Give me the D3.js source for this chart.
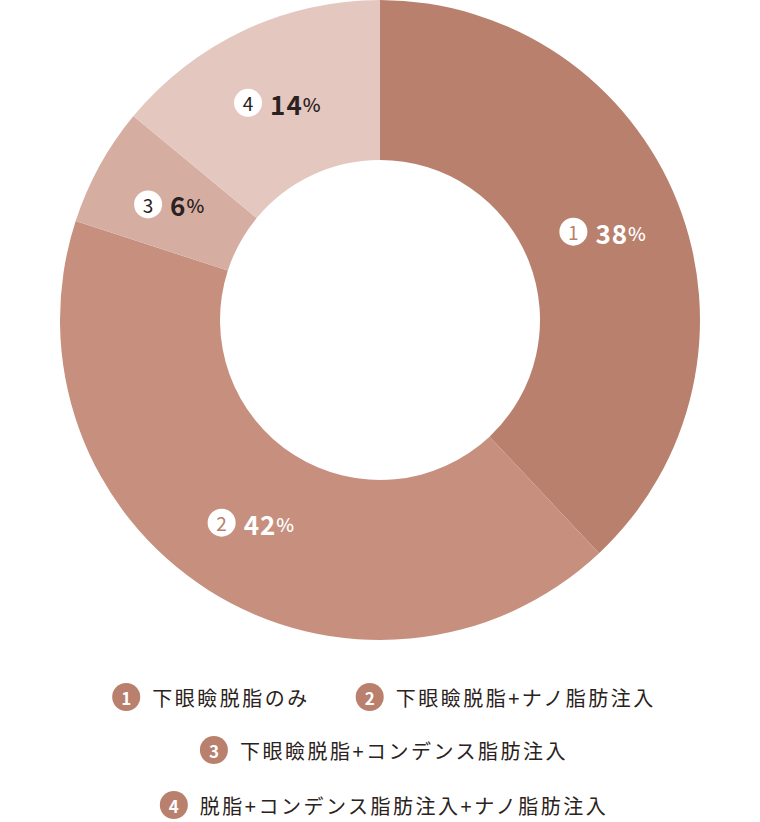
<!DOCTYPE html><html><head><meta charset="utf-8"><script src="https://cdn.jsdelivr.net/npm/d3@7"></script>
<style>body{margin:0;background:#fff}svg{display:block}</style></head><body><svg id="c" width="760" height="822"></svg>
<script>
const categories=["下眼瞼脱脂のみ","下眼瞼脱脂+ナノ脂肪注入","下眼瞼脱脂+コンデンス脂肪注入","脱脂+コンデンス脂肪注入+ナノ脂肪注入"];
const values=[38,42,6,14];
const colors=["#b9806d","#c68f7e","#d6aea1","#e4c8c0"];
const textColors=["#fff","#fff","#2a2220","#2a2220"];
const svg=d3.select("#c");
const font="'Noto Sans CJK JP','Noto Sans',sans-serif";
const cx=380,cy=320,R=320,r=160;
const pie=d3.pie().sort(null).value(d=>d)(values);
const arc=d3.arc().innerRadius(r).outerRadius(R);
const g=svg.append("g").attr("transform",`translate(${cx},${cy})`);
g.selectAll("path").data(pie).join("path").attr("d",arc).attr("fill",(d,i)=>colors[i]);
const labelArc=d3.arc().innerRadius(240).outerRadius(240);
pie.forEach((d,i)=>{
  const [x,y]=labelArc.centroid(d);
  // custom radius for small slices
  const lg=g.append("g").attr("transform",`translate(${x},${y})`);
  const t=lg.append("text").attr("font-family",font).attr("font-weight",700).attr("fill",textColors[i]).attr("dominant-baseline","central").attr("letter-spacing","1");
  t.append("tspan").attr("font-size",26).text(values[i]);
  t.append("tspan").attr("font-size",19).attr("font-weight",500).text("%");
  const w=t.node().getComputedTextLength();
  const total=28+8+w;
  lg.append("circle").attr("cx",-total/2+14).attr("r",14).attr("fill","#fff");
  lg.append("text").attr("x",-total/2+14).attr("font-family",font).attr("font-size",19).attr("text-anchor","middle").attr("dominant-baseline","central").attr("fill",i<2?colors[0]:"#2a2220").text(i+1);
  t.attr("x",-total/2+36);
});
const rows=[[0,1],[2],[3]];const rowY=[697,750,805];
rows.forEach((row,ri)=>{
  const rg=svg.append("g");
  let x=0;
  row.forEach((k,j)=>{
    if(j>0)x+=46;
    rg.append("circle").attr("cx",x+14).attr("cy",rowY[ri]).attr("r",14).attr("fill",colors[0]);
    rg.append("text").attr("x",x+14).attr("y",rowY[ri]).attr("font-family",font).attr("font-weight",700).attr("font-size",17).attr("fill","#fff").attr("text-anchor","middle").attr("dominant-baseline","central").text(k+1);
    const t=rg.append("text").attr("x",x+40).attr("y",rowY[ri]).attr("font-family",font).attr("font-size",20).attr("letter-spacing","2.5").attr("fill","#2a2220").attr("dominant-baseline","central").text(categories[k]);
    x+=40+t.node().getComputedTextLength();
  });
  rg.attr("transform",`translate(${(760-x)/2+4},0)`);
});
</script></body></html>
